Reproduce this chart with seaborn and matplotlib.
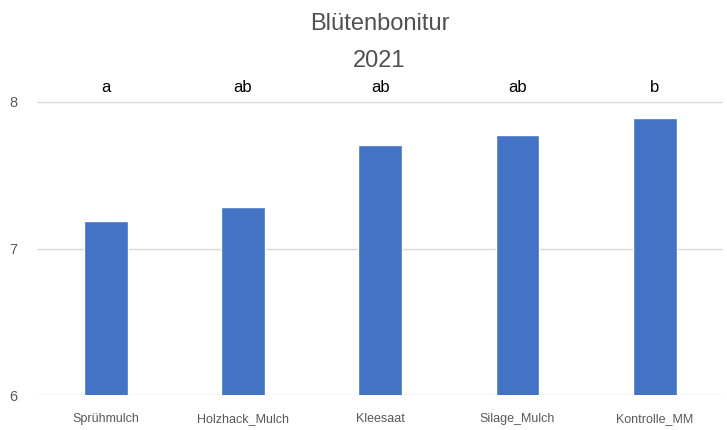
import pandas as pd
import seaborn as sns
from matplotlib import pyplot as plt

# Blütenbonitur 2021 - mean scores per variant
varianten = ['Sprühmulch', 'Holzhack_Mulch', 'Kleesaat', 'Silage_Mulch', 'Kontrolle_MM']
bonitur = [7.19, 7.285, 7.705, 7.775, 7.89]
buchstaben = ['a', 'ab', 'ab', 'ab', 'b']

df = pd.DataFrame({'Variante': varianten, 'Bonitur': bonitur})

sns.set_style('white')
plt.rcParams['font.family'] = ['Liberation Sans', 'DejaVu Sans']

fig = plt.figure(figsize=(7.27, 4.30), dpi=100)
ax = fig.add_axes([0.051, 0.081, 0.944, 0.682])

sns.barplot(data=df, x='Variante', y='Bonitur', order=varianten,
            color='#4472C4', saturation=1, width=0.32, ax=ax)

ax.set_ylim(6, 8)
ax.set_yticks([6, 7, 8])
ax.yaxis.grid(True, color='#d9d9d9', linewidth=1)
ax.set_axisbelow(True)
for s in ax.spines.values():
    s.set_visible(False)
ax.tick_params(axis='both', length=0, colors='#595959')
ax.tick_params(axis='y', labelsize=10.5, pad=14)
ax.tick_params(axis='x', labelsize=9, pad=13)
ax.set_xlabel('')
ax.set_ylabel('')

# significance letters above the 8 line
for i, b in enumerate(buchstaben):
    ax.text(i, 8.045, b, ha='center', va='bottom', fontsize=12,
            color='#000000', clip_on=False)

fig.text(0.522, 0.945, 'Blütenbonitur', ha='center', va='center',
         fontsize=17, color='#505050')
fig.text(0.522, 0.858, '2021', ha='center', va='center',
         fontsize=17, color='#505050')

fig.savefig('out.png', dpi=100)
